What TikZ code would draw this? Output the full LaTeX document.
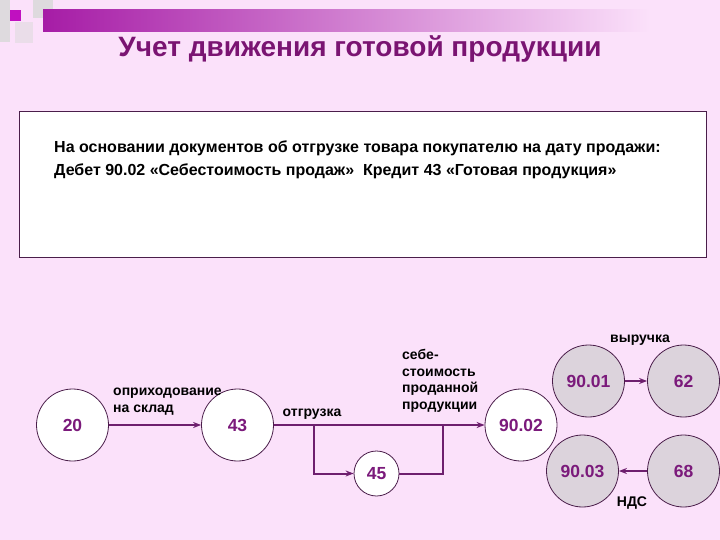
\documentclass[tikz,border=0pt]{standalone}
\usepackage{fontspec}
\setmainfont{Liberation Sans}
\usetikzlibrary{arrows.meta}
\definecolor{bg}{HTML}{FBE1FA}
\definecolor{barc}{HTML}{A61CA6}
\definecolor{titlec}{HTML}{7A1472}
\definecolor{linec}{HTML}{6E1F6E}
\definecolor{edgec}{HTML}{4A1E4A}
\definecolor{numc}{HTML}{7B1A7B}
\definecolor{grayfill}{HTML}{DCD3DC}
\definecolor{magsq}{HTML}{C010C0}
\definecolor{graysq}{HTML}{DEDADE}
\tikzset{
  acc/.style={circle, draw=edgec, line width=0.8pt, fill=white, minimum size=72pt, inner sep=0pt,
    text=numc, font=\fontsize{17.5}{20}\selectfont\bfseries},
  accg/.style={acc, fill=grayfill},
  accs/.style={acc, minimum size=45pt},
  conn/.style={draw=linec, line width=2pt, -{Stealth[length=8pt,width=6pt]}},
  plain/.style={draw=linec, line width=2pt},
  lbl/.style={font=\fontsize{14}{16.7}\selectfont\bfseries, inner sep=0pt, align=left},
  boxtext/.style={font=\fontsize{16}{19}\selectfont\bfseries, inner sep=0pt, anchor=west},
}
\begin{document}
\begin{tikzpicture}[x=1pt,y=-1pt]
\useasboundingbox (0,0) rectangle (720,540);
\fill[bg] (0,0) rectangle (720,540);
% corner decoration
\fill[graysq] (0,0) rectangle (10,42);
\fill[graysq] (33,0) rectangle (53,18);
\fill[graysq!60!bg] (15,22) rectangle (33,43);
\fill[magsq] (10,10) rectangle (21,21);
\shade[left color=barc, right color=bg] (43,10) rectangle (650,32);
% title
\node[text=titlec, font=\fontsize{28}{32}\selectfont\bfseries] (title) at (360,49) {Учет движения готовой продукции};
% text box
\draw[draw=edgec, line width=1pt, fill=white] (19,112) rectangle (706,257);
\node[boxtext] (t1) at (54,148) {На основании документов об отгрузке товара покупателю на дату продажи:};
\node[boxtext] (t2) at (54,171) {Дебет 90.02 «Себестоимость продаж»\ \ Кредит 43 «Готовая продукция»};
% circles
\node[acc] (n20) at (72.5,425) {20};
\node[acc] (n43) at (237.5,425) {43};
\node[accs] (n45) at (376.5,473.5) {45};
\node[acc] (n9002) at (521,425) {90.02};
\node[accg] (n9001) at (588.5,381) {90.01};
\node[accg] (n62) at (683.5,381) {62};
\node[accg] (n9003) at (582.5,471) {90.03};
\node[accg] (n68) at (683.5,471) {68};
% connectors
\coordinate (b1) at (314,425);
\coordinate (b2) at (443,425);
\draw[conn] (n20) -- (n43);
\draw[conn] (n43) -- (n9002);
\draw[conn] (b1) |- (n45);
\draw[plain] (n45) -| (b2);
\draw[conn] (n9001) -- (n62);
\draw[conn] (n68) -- (n9003);
% labels
\node[lbl, anchor=north west] (l1) at (113,388) {оприходование\\на склад};
\node[lbl] (l2) at (312,414) {отгрузка};
\node[lbl, anchor=north west] (l3) at (402,349) {себе-\\стоимость\\проданной\\продукции};
\node[lbl] (l4) at (640,340) {выручка};
\node[lbl] (l5) at (632,503) {НДС};
\end{tikzpicture}
\end{document}
